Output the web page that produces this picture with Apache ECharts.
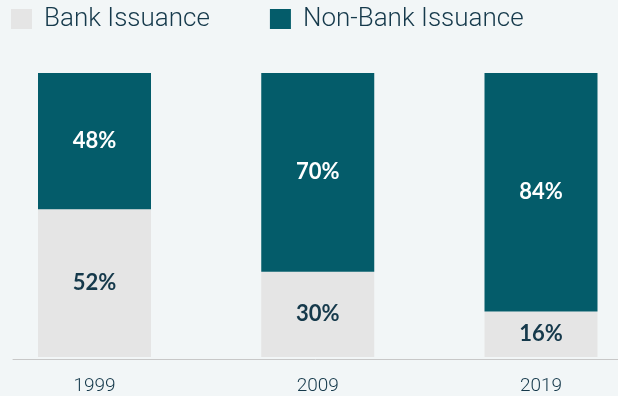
<!DOCTYPE html>
<html>
<head>
<meta charset="utf-8">
<style>
  html, body { margin: 0; padding: 0; background: #f2f6f7; }
  #chart { width: 618px; height: 396px; }
</style>
<script src="https://cdn.jsdelivr.net/npm/echarts@6/dist/echarts.min.js"></script>
</head>
<body>
<div id="chart"></div>
<script>
// Share of issuance by year (percent)
const years = ['1999', '2009', '2019'];
const bankIssuance = [52, 30, 16];
const nonBankIssuance = [48, 70, 84];

const TEAL = '#045c6a';
const GREY = '#e5e5e5';
const INK = '#15394b';

const chart = echarts.init(document.getElementById('chart'), null, { renderer: 'canvas' });

const pctLabel = (color) => ({
  show: true,
  position: 'inside',
  formatter: (p) => p.value + '%',
  color: color,
  fontFamily: 'Lato',
  fontWeight: 'bold',
  fontSize: 22
});

chart.setOption({
  backgroundColor: '#f2f6f7',
  animation: false,
  legend: {
    left: 11,
    top: 6,
    padding: 0,
    itemWidth: 21,
    itemHeight: 20,
    itemGap: 60,
    icon: 'rect',
    textStyle: { fontFamily: 'Roboto', fontWeight: 300, fontSize: 26, color: INK, padding: [0, 0, 0, 7] },
    data: ['Bank Issuance', 'Non-Bank Issuance']
  },
  grid: [
    // bars are centred on the ticks of this grid
    { left: 94.5, right: 77, top: 73, bottom: 37 },
    // full-width baseline
    { left: 13, right: 0, top: 73, bottom: 37 }
  ],
  xAxis: [
    {
      type: 'category',
      gridIndex: 0,
      data: years,
      boundaryGap: false,
      axisLine: { show: false },
      axisTick: { show: false },
      axisLabel: { color: INK, fontFamily: 'Roboto', fontWeight: 300, fontSize: 19, margin: 20 }
    },
    {
      type: 'category',
      gridIndex: 1,
      data: [''],
      axisLine: { show: true, lineStyle: { color: '#c8c8c8', width: 1 } },
      axisTick: { show: false },
      axisLabel: { show: false }
    }
  ],
  yAxis: [
    { type: 'value', gridIndex: 0, min: 0, max: 100, show: false },
    { type: 'value', gridIndex: 1, min: 0, max: 100, show: false }
  ],
  series: [
    {
      name: 'Bank Issuance',
      type: 'bar',
      stack: 'share',
      clip: false,
      data: bankIssuance,
      barWidth: 113,
      itemStyle: { color: GREY },
      label: pctLabel(INK)
    },
    {
      name: 'Non-Bank Issuance',
      type: 'bar',
      stack: 'share',
      clip: false,
      data: nonBankIssuance,
      barWidth: 113,
      itemStyle: { color: TEAL },
      label: pctLabel('#ffffff')
    }
  ]
});
</script>
</body>
</html>
